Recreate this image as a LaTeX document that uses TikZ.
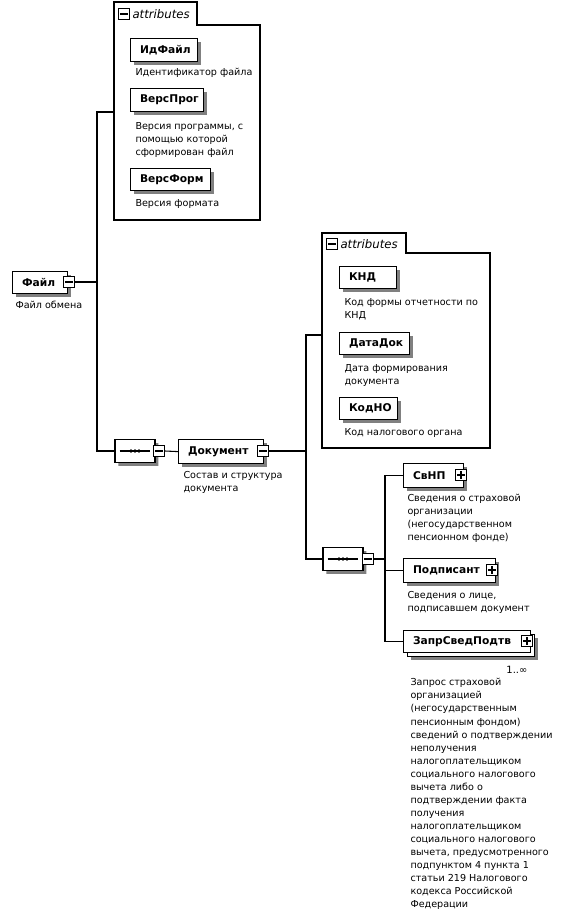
\documentclass[tikz,border=0pt]{standalone}
\usepackage{fontspec}
\setmainfont{DejaVu Sans}
\usetikzlibrary{shadows,shapes.misc,calc}
\newcommand\elembox[6]{%
  \node[elbox,minimum width={(#4-#2)*0.75pt},minimum height={(#5-#3)*0.75pt}] (#1) at (#2,#3) {};
  \node[elname,anchor=west] (#1-name) at ($(#1.west)+(9.5,0)$) {#6};}
\newcommand\minusicon[3]{%
  \node[icon] (#1) at (#2,#3) {};
  \draw[iconline] ([xshift=1.7pt]#1.west) -- ([xshift=-1.7pt]#1.east);}
\newcommand\plusicon[3]{%
  \minusicon{#1}{#2}{#3}%
  \draw[iconline] ([yshift=-1.7pt]#1.north) -- ([yshift=1.7pt]#1.south);}
\newcommand\seqsym[3]{%
  \node[seqbox] (#1) at (#2,#3) {};
  \draw[line width=0.9pt] ([xshift=4pt]#1.west) -- ([xshift=-4pt]#1.east);
  \foreach \dx in {-3,0,3} \fill ([xshift=\dx pt]#1.center) circle (1.35pt);}
\begin{document}
\begin{tikzpicture}[x=0.75pt,y=-0.75pt,line width=0.75pt,
  shd/.style={drop shadow={shadow xshift=2.6pt,shadow yshift=-2.6pt,fill=black!50,opacity=1}},
  elbox/.style={draw,fill=white,line width=0.9pt,inner sep=0pt,anchor=north west,shd},
  plainbox/.style={draw,fill=white,line width=0.9pt,inner sep=0pt,anchor=north west},
  elname/.style={font=\bfseries\fontsize{8}{10}\selectfont,inner sep=0pt},
  desc/.style={font=\fontsize{7.2}{9.75}\selectfont,align=left,inner sep=0pt,anchor=north west},
  icon/.style={draw,fill=white,line width=0.75pt,minimum size=8.25pt,inner sep=0pt},
  iconline/.style={line width=0.8pt},
  attrtitle/.style={font=\itshape\fontsize{8.8}{10}\selectfont,inner sep=0pt,anchor=west},
  frame/.style={line width=0.9pt},
  seqbox/.style={chamfered rectangle,chamfered rectangle xsep=3.6pt,chamfered rectangle ysep=3.6pt,
    draw,fill=white,line width=0.9pt,minimum width=30pt,minimum height=17pt,inner sep=0pt,shd},
  conn/.style={line width=0.8pt}
]
\useasboundingbox (0,0) rectangle (561,913);
\fill[white] (0,0) rectangle (561,913);

% ---------- attributes of Файл ----------
\draw[frame] (114,220) -- (114,2) -- (197,2) -- (197,25) -- (260,25) -- (260,220) -- cycle;
\minusicon{attr1ic}{124}{14}
\node[attrtitle] (attr1title) at (132,14) {attributes};

\elembox{idf}{130}{38}{197}{61}{ИдФайл}
\node[desc] (idf-d) at (135,68) {Идентификатор файла};
\elembox{vp}{130}{88}{203}{111}{ВерсПрог}
\node[desc] (vp-d) at (135,122) {Версия программы, с\\помощью которой\\сформирован файл};
\elembox{vf}{130}{168}{210}{190}{ВерсФорм}
\node[desc] (vf-d) at (135,199) {Версия формата};

% ---------- Файл ----------
\elembox{file}{12}{271}{67}{293}{Файл}
\minusicon{fileic}{69}{282}
\node[desc] (file-d) at (15,301) {Файл обмена};

\coordinate (j1) at (97,282);
\coordinate (a1in) at (114,112);
\draw[conn] (fileic.east) -- (j1);
\draw[conn] (a1in) -| (j1);

% ---------- sequence 1 and Документ ----------
\seqsym{seq1}{135}{451}
\minusicon{seq1ic}{159}{451}
\draw[conn] (j1) |- (seq1.west);
\elembox{doc}{178}{439}{263}{463}{Документ}
\minusicon{docic}{263}{451}
\draw[conn] (seq1ic.east) -- (doc.west);
\node[desc] (doc-d) at (183,471) {Состав и структура\\документа};

% ---------- attributes of Документ ----------
\draw[frame] (322,448) -- (322,233) -- (406,233) -- (406,253) -- (490,253) -- (490,448) -- cycle;
\minusicon{attr2ic}{332}{244}
\node[attrtitle] (attr2title) at (340,244) {attributes};

\elembox{knd}{339}{266}{396}{288}{КНД}
\node[desc] (knd-d) at (344,298) {Код формы отчетности по\\КНД};
\elembox{dd}{339}{332}{409}{354}{ДатаДок}
\node[desc] (dd-d) at (344,364) {Дата формирования\\документа};
\elembox{kno}{339}{397}{397}{419}{КодНО}
\node[desc] (kno-d) at (344,428) {Код налогового органа};

\coordinate (j2) at (306,451);
\coordinate (a2in) at (322,335);
\draw[conn] (docic.east) -- (j2);
\draw[conn] (a2in) -| (j2);

% ---------- sequence 2 ----------
\seqsym{seq2}{343}{559}
\minusicon{seq2ic}{368}{559}
\draw[conn] (j2) |- (seq2.west);
\coordinate (j3) at (385,559);
\draw[conn] (seq2ic.east) -- (j3);

\elembox{svnp}{403}{463}{463}{487}{СвНП}
\plusicon{svnpic}{461}{475}
\node[desc] (svnp-d) at (407,494) {Сведения о страховой\\организации\\(негосударственном\\пенсионном фонде)};

\elembox{podp}{403}{558}{495}{582}{Подписант}
\plusicon{podpic}{492}{570}
\node[desc] (podp-d) at (407,591) {Сведения о лице,\\подписавшем документ};

\node[elbox,minimum width={127*0.75pt},minimum height={22*0.75pt}] (zaprback) at (407,634) {};
\node[plainbox,minimum width={127*0.75pt},minimum height={22*0.75pt}] (zapr) at (403,630) {};
\node[elname,anchor=west] (zapr-name) at ($(zapr.west)+(9.5,0)$) {ЗапрСведПодтв};
\plusicon{zapric}{527}{641}
\node[font=\fontsize{7.5}{9}\selectfont,inner sep=0pt,anchor=east] (zapr-m) at (528,670) {1..∞};
\node[desc,font=\fontsize{7.2}{9.8}\selectfont] (zapr-d) at (410,678) {Запрос страховой\\организацией\\(негосударственным\\пенсионным фондом)\\сведений о подтверждении\\неполучения\\налогоплательщиком\\социального налогового\\вычета либо о\\подтверждении факта\\получения\\налогоплательщиком\\социального налогового\\вычета, предусмотренного\\подпунктом 4 пункта 1\\статьи 219 Налогового\\кодекса Российской\\Федерации};

\draw[conn] (j3) |- (svnp.west);
\draw[conn] (j3) |- (podp.west);
\draw[conn] (j3) |- (zapr.west);
\end{tikzpicture}
\end{document}
